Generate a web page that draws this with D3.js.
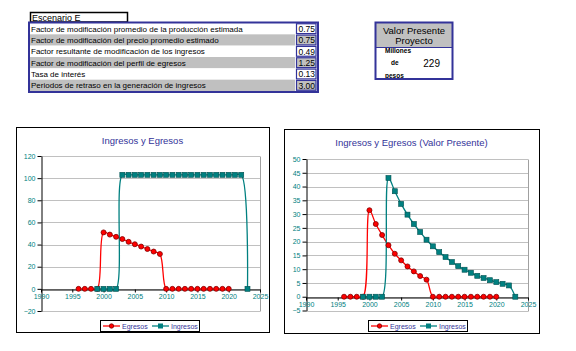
<!DOCTYPE html>
<html>
<head>
<meta charset="utf-8">
<script src="https://cdn.jsdelivr.net/npm/d3@7"></script>
<style>
  body { margin: 0; background: #fff; }
  text { font-family: "Liberation Sans", Arial, sans-serif; }
</style>
</head>
<body>
<svg id="chart" width="576" height="351"></svg>
<script>
// ---- data ----
var scenario = "Escenario E";
var paramLabels = [
  "Factor de modificación promedio de la producción estimada",
  "Factor de modificación del precio promedio estimado",
  "Factor resultante de modificación de los ingresos",
  "Factor de modificación del perfil de egresos",
  "Tasa de interés",
  "Periodos de retraso en la generación de ingresos"
];
var paramValues = ["0.75", "0.75", "0.49", "1.25", "0.13", "3.00"];
var vpTitle = ["Valor Presente", "Proyecto"];
var vpUnits = ["Millones", "de", "pesos"];
var vpValue = "229";

var egresosYears = d3.range(1996, 2021);
var ingresosYears = d3.range(1999, 2024);

var egresos = [0, 0, 0, 0, 51, 49, 47, 45, 42.5, 40.3, 38.2, 36, 33.7, 31.5,
  0, 0, 0, 0, 0, 0, 0, 0, 0, 0, 0];
var ingresos = [0, 0, 0, 0, 103, 103, 103, 103, 103, 103, 103, 103, 103, 103,
  103, 103, 103, 103, 103, 103, 103, 103, 103, 103, 0];
var egresosPV = [0, 0, 0, 0, 31.4, 26.4, 22.4, 18.7, 15.6, 13.2, 11.0, 9.2, 7.5, 6.2,
  0, 0, 0, 0, 0, 0, 0, 0, 0, 0, 0];
var ingresosPV = [0, 0, 0, 0, 43.1, 38.3, 33.7, 29.8, 26.4, 23.5, 20.7, 18.3, 16.2,
  14.4, 12.6, 11.1, 9.8, 8.7, 7.6, 6.8, 6.0, 5.3, 4.7, 4.1, 0];

var xTicks = [1990, 1995, 2000, 2005, 2010, 2015, 2020, 2025];
var yTicksLeft = [-20, 0, 20, 40, 60, 80, 100, 120];
var yTicksRight = [-5, 0, 5, 10, 15, 20, 25, 30, 35, 40, 45, 50];
var seriesNames = ["Egresos", "Ingresos"];

var navy = "#333399", teal = "#008080", gray = "#c0c0c0";

var svg = d3.select("#chart");

// ---- parameter table ----
svg.append("rect")
  .attr("x", 30.5).attr("y", 12.5).attr("width", 97).attr("height", 9.5)
  .attr("fill", "#fff").attr("stroke", "#000").attr("stroke-width", 1.5);
svg.append("text").attr("x", 32).attr("y", 20.5)
  .attr("font-size", 9).text(scenario);

var rowY = d3.scaleBand().domain(d3.range(paramLabels.length)).range([23, 91]);

var rows = svg.append("g").selectAll("g").data(paramLabels).join("g")
  .attr("transform", (d, i) => `translate(0,${rowY(i)})`);

rows.append("rect")
  .attr("x", 30).attr("width", 265).attr("height", rowY.bandwidth())
  .attr("fill", (d, i) => (i % 2 ? gray : "#fff"));
rows.append("text")
  .attr("x", 31).attr("y", rowY.bandwidth() / 2 + 3)
  .attr("font-size", 8).text((d) => d);

rows.append("rect")
  .attr("x", 296.5).attr("y", 0.75).attr("width", 19.5).attr("height", rowY.bandwidth() - 1.5)
  .attr("fill", (d, i) => (i % 2 ? gray : "#fff"))
  .attr("stroke", navy).attr("stroke-width", 1.2);
rows.append("text")
  .attr("x", 315).attr("y", rowY.bandwidth() / 2 + 3.2)
  .attr("text-anchor", "end").attr("font-size", 8.5)
  .text((d, i) => paramValues[i]);

svg.append("rect")
  .attr("x", 29).attr("y", 22.5).attr("width", 289).attr("height", 69.5)
  .attr("fill", "none").attr("stroke", navy).attr("stroke-width", 2);

// ---- valor presente box ----
var vp = svg.append("g");
vp.append("rect").attr("x", 376).attr("y", 23).attr("width", 76).attr("height", 24)
  .attr("fill", gray);
vp.append("line").attr("x1", 376).attr("x2", 452).attr("y1", 47.5).attr("y2", 47.5)
  .attr("stroke", navy).attr("stroke-width", 1);
vp.selectAll("text.t").data(vpTitle).join("text").attr("class", "t")
  .attr("x", 414).attr("y", (d, i) => 34 + i * 10)
  .attr("text-anchor", "middle").attr("font-size", 9.5).text((d) => d);
vp.selectAll("text.u").data(vpUnits).join("text").attr("class", "u")
  .attr("x", (d, i) => (i === 1 ? 391 : 385)).attr("y", (d, i) => 52.5 + i * 12.5)
  .attr("font-size", 6.5).attr("font-weight", "bold").text((d) => d);
vp.append("text").attr("x", 440).attr("y", 66.5).attr("text-anchor", "end")
  .attr("font-size", 10).text(vpValue);
vp.append("rect").attr("x", 375.5).attr("y", 22.5).attr("width", 77).attr("height", 56.5)
  .attr("fill", "none").attr("stroke", navy).attr("stroke-width", 2);

// ---- line charts ----
function lineChart(o) {
  var g = svg.append("g");

  g.append("rect")
    .attr("x", o.frame[0] + 0.5).attr("y", o.frame[1] + 0.5)
    .attr("width", o.frame[2] - o.frame[0]).attr("height", o.frame[3] - o.frame[1])
    .attr("fill", "#fff").attr("stroke", "#000");

  var x = d3.scaleLinear().domain([1990, 2025]).range([o.left, o.right]);
  var y = d3.scaleLinear().domain(d3.extent(o.yTicks)).range([o.bottom, o.top]);

  g.append("text")
    .attr("x", (o.frame[0] + o.frame[2]) / 2).attr("y", o.frame[1] + 17)
    .attr("text-anchor", "middle").attr("font-size", 9.5)
    .attr("fill", navy).text(o.title);

  // gridlines + plot area border
  g.selectAll("line.grid").data(o.yTicks).join("line").attr("class", "grid")
    .attr("x1", o.left).attr("x2", o.right)
    .attr("y1", (d) => Math.round(y(d)) + 0.5).attr("y2", (d) => Math.round(y(d)) + 0.5)
    .attr("stroke", gray);
  g.append("line")
    .attr("x1", Math.round(o.right) + 0.5).attr("x2", Math.round(o.right) + 0.5)
    .attr("y1", Math.round(y(d3.max(o.yTicks))) + 0.5).attr("y2", Math.round(o.bottom) + 0.5)
    .attr("stroke", "#a0a0a0");

  var yAxis = g.append("g")
    .attr("transform", `translate(${Math.round(o.left) + 0.5},0)`)
    .call(d3.axisLeft(y).tickValues(o.yTicks).tickSize(4).tickPadding(2).tickSizeOuter(0));
  yAxis.select(".domain").attr("stroke", "#000");
  yAxis.selectAll("text").attr("fill", teal).attr("font-size", 7)
    .attr("font-family", "'Liberation Sans', Arial, sans-serif");

  var xAxis = g.append("g")
    .attr("transform", `translate(0,${Math.round(y(0)) + 0.5})`)
    .call(d3.axisBottom(x).tickValues(xTicks).tickSize(3).tickPadding(2)
      .tickSizeOuter(0).tickFormat(d3.format("d")));
  xAxis.select(".domain").attr("stroke", "#000");
  xAxis.selectAll("text").attr("fill", teal).attr("font-size", 7)
    .attr("font-family", "'Liberation Sans', Arial, sans-serif");

  var line = d3.line().curve(d3.curveCatmullRom.alpha(0.5))
    .x((d) => x(d[0])).y((d) => y(d[1]));

  var eg = d3.zip(egresosYears, o.egresos);
  var ing = d3.zip(ingresosYears, o.ingresos);

  g.append("path").datum(eg).attr("d", line)
    .attr("fill", "none").attr("stroke", "#ff0000").attr("stroke-width", 1.3);
  g.append("path").datum(ing).attr("d", line)
    .attr("fill", "none").attr("stroke", teal).attr("stroke-width", 1.3);

  g.selectAll("circle.eg").data(eg).join("circle").attr("class", "eg")
    .attr("cx", (d) => x(d[0])).attr("cy", (d) => y(d[1])).attr("r", 2.5)
    .attr("fill", "#ff0000").attr("stroke", "#800000").attr("stroke-width", 0.8);
  g.selectAll("rect.ing").data(ing).join("rect").attr("class", "ing")
    .attr("x", (d) => x(d[0]) - 2.5).attr("y", (d) => y(d[1]) - 2.5)
    .attr("width", 5).attr("height", 5)
    .attr("fill", teal).attr("stroke", "#005050").attr("stroke-width", 0.6);

  // legend
  var lg = g.append("g").attr("transform", `translate(${o.legendX},320)`);
  lg.append("rect").attr("x", 0.5).attr("y", 0.5).attr("width", 99).attr("height", 11)
    .attr("fill", "#fff").attr("stroke", "#000");
  var items = lg.selectAll("g").data(seriesNames).join("g")
    .attr("transform", (d, i) => `translate(${3 + i * 49},6)`);
  items.append("line").attr("x1", 0).attr("x2", 17)
    .attr("stroke", (d, i) => (i ? teal : "#ff0000")).attr("stroke-width", 1.3);
  items.filter((d, i) => i === 0).append("circle").attr("cx", 8.5).attr("r", 2.2)
    .attr("fill", "#ff0000").attr("stroke", "#800000").attr("stroke-width", 0.8);
  items.filter((d, i) => i === 1).append("rect").attr("x", 6).attr("y", -2.5)
    .attr("width", 5).attr("height", 5).attr("fill", teal);
  items.append("text").attr("x", 19).attr("y", 2.8).attr("font-size", 7)
    .attr("fill", navy).text((d) => d);
}

lineChart({
  frame: [16, 127, 269, 332],
  left: 41, right: 260, top: 156, bottom: 311,
  yTicks: yTicksLeft, title: "Ingresos y Egresos",
  egresos: egresos, ingresos: ingresos, legendX: 100
});

lineChart({
  frame: [284, 129, 539, 333],
  left: 306, right: 528, top: 159, bottom: 310.5,
  yTicks: yTicksRight, title: "Ingresos y Egresos (Valor Presente)",
  egresos: egresosPV, ingresos: ingresosPV, legendX: 368
});
</script>
</body>
</html>
